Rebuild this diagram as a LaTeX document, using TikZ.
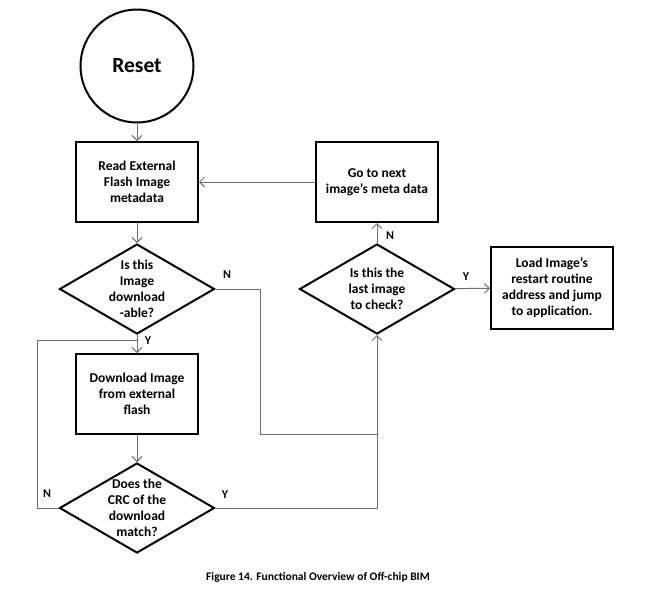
\documentclass[tikz,border=0pt]{standalone}
\usepackage{fontspec}
\setmainfont{Carlito}
\usetikzlibrary{shapes.geometric, arrows.meta, positioning, calc}
\definecolor{linegray}{RGB}{110, 110, 110}

\begin{document}
\begin{tikzpicture}[x=1pt, y=-1pt,
  procbox/.style={draw, line width=2pt, minimum width=122pt, minimum height=80pt, inner sep=2pt, align=center, font=\fontsize{13.5}{16}\selectfont\bfseries},
  decision/.style={draw, diamond, line width=2pt, minimum width=155pt, minimum height=90pt, inner sep=0pt},
  qtext/.style={align=center, inner sep=0pt, font=\fontsize{13.5}{16}\selectfont\bfseries},
  flow/.style={draw=linegray, line width=1pt},
  flowarrow/.style={flow, -{Straight Barb[length=5pt, width=10pt]}},
  yn/.style={font=\fontsize{12}{14}\selectfont\bfseries}]
  \useasboundingbox (0, 0) rectangle (650, 590);

  % Start
  \node[draw, circle, line width=2pt, minimum size=113pt, font=\fontsize{21.5}{26}\selectfont\bfseries] (reset) at (137, 66) {Reset};

  % Left column
  \node[procbox] (read) at (137, 182) {Read External\\Flash Image\\metadata};
  \node[decision] (dlable) at (137, 289) {};
  \node[qtext] (dlablet) at (dlable) {Is this\\Image\\download\\-able?};
  \node[procbox] (download) at (137, 394) {Download Image\\from external\\flash};
  \node[decision] (crc) at (137, 508) {};
  \node[qtext] (crct) at (crc) {Does the\\CRC of the\\download\\match?};

  % Right column
  \node[procbox] (next) at (377, 182) {Go to next\\image’s meta data};
  \node[decision] (last) at (377, 289) {};
  \node[qtext] (lastt) at (last) {Is this the\\last image\\to check?};
  \node[procbox, minimum height=82pt] (load) at (552, 288) {Load Image’s\\restart routine\\address and jump\\to application.};

  % Joints
  \coordinate (join) at (137, 340);
  \coordinate (bend) at (260, 434);
  \coordinate (merge) at (377, 434);

  % Connectors
  \draw[flowarrow] (reset) -- (read);
  \draw[flowarrow] (read) -- (dlable);
  \draw[flowarrow] (dlable) -- (download);
  \draw[flowarrow] (download) -- (crc);
  \draw[flow] (crc.west) -- ++(-21, 0) |- (join);
  \draw[flowarrow] (dlable.east) -| (bend) -- (merge) -- (last.south);
  \draw[flow] (crc.east) -| (merge);
  \draw[flowarrow] (last) -- (next);
  \draw[flowarrow] (next) -- (read);
  \draw[flowarrow] (last) -- (load);

  % Y / N
  \node[yn] (ydl) at (148, 341) {Y};
  \node[yn] (ndl) at (227, 275) {N};
  \node[yn] (ncrc) at (47, 494) {N};
  \node[yn] (ycrc) at (225, 495) {Y};
  \node[yn] (nlast) at (390, 236) {N};
  \node[yn] (ylast) at (466, 277) {Y};

  % Caption
  \node[font=\fontsize{11.5}{13}\selectfont\bfseries] (caption) at (318, 577) {Figure 14. Functional Overview of Off-chip BIM};
\end{tikzpicture}
\end{document}
